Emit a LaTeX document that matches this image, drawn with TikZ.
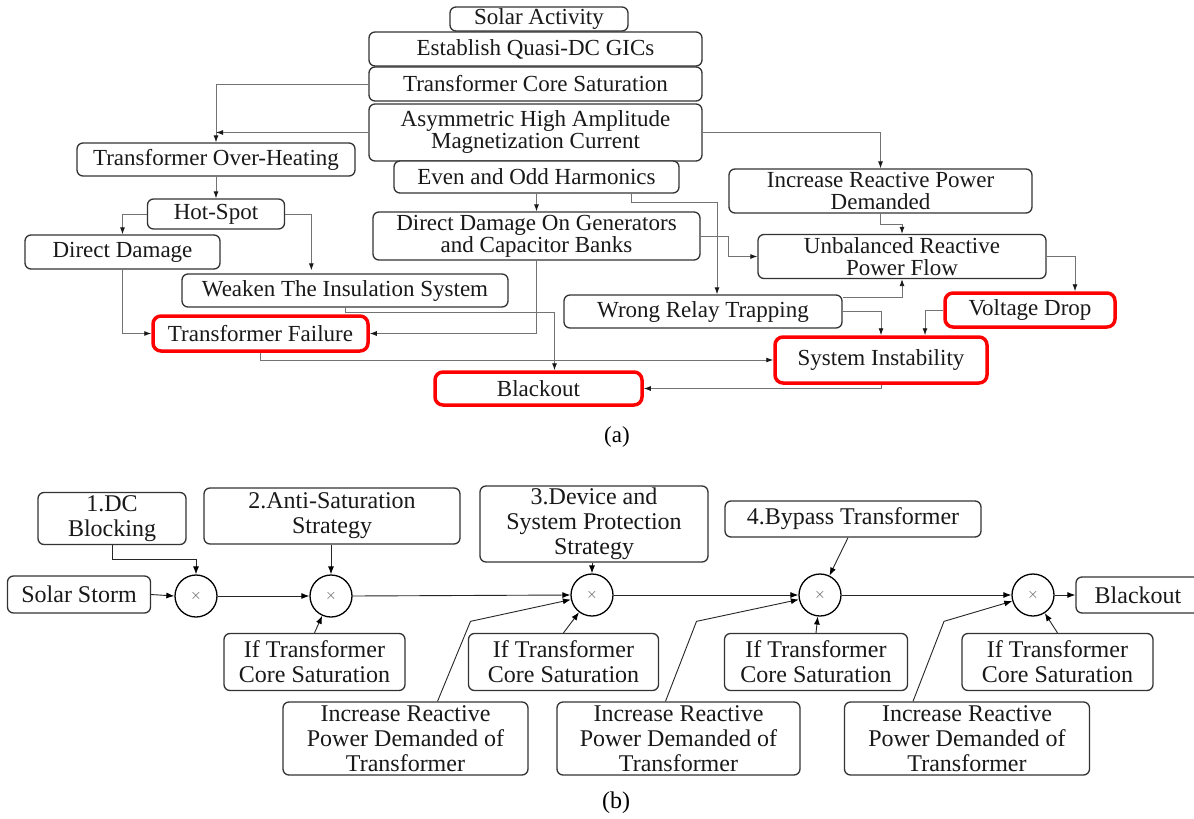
\documentclass[tikz,border=0pt]{standalone}
\usepackage{fontspec}
\setmainfont{Liberation Serif}
\usetikzlibrary{arrows.meta,calc}
\pgfdeclarelayer{back}
\pgfdeclarelayer{bg}
\pgfsetlayers{back,bg,main}
\newcommand\fa{\fontsize{23}{22}\selectfont}
\newcommand\fb{\fontsize{24}{25}\selectfont}
\begin{document}
\begin{tikzpicture}[x=1pt,y=-1pt,
  bx/.style={draw=black!80, fill=white, line width=1.3pt, rounded corners=6pt, inner sep=0pt, align=center, text=black!90},
  ba/.style={bx, font=\fa},
  bb/.style={bx, font=\fb},
  rb/.style={ba, draw=red, line width=3.5pt, rounded corners=8pt},
  sz/.style 2 args={minimum width=#1pt, minimum height=#2pt},
  ln/.style={draw=black!55, line width=0.9pt, -{Latex[length=7pt,width=5pt,color=black!90]}},
  lnb/.style={draw=black!85, line width=0.9pt, -{Latex[length=8pt,width=6pt,color=black]}},
  mul/.style={circle, draw=black, fill=white, line width=1.3pt, minimum size=42pt, inner sep=0pt, font=\fontsize{14}{14}\selectfont, text=black!70}
]
\begin{pgfonlayer}{back}
\fill[white] (0,0) rectangle (1194,819);
\end{pgfonlayer}
\useasboundingbox (0,0) rectangle (1194,819);

% ---------- (a) ----------
\node[ba, sz={178}{24}] (sa) at (539,19) {Solar Activity};
\node[ba, sz={333}{34}] (eq) at (535.5,49) {Establish Quasi-DC GICs};
\node[ba, sz={333}{34}] (tcs) at (535.5,84) {Transformer Core Saturation};
\node[ba, sz={333}{57}] (asym) at (535.5,132.5) {Asymmetric High Amplitude\\Magnetization Current};
\node[ba, sz={278}{33}] (toh) at (216,159.5) {Transformer Over-Heating};
\node[ba, sz={285}{32}] (eoh) at (536.5,177) {Even and Odd Harmonics};
\node[ba, sz={303}{44}] (irp) at (880.5,191) {Increase Reactive Power\\Demanded};
\node[ba, sz={137}{30}] (hs) at (216,214) {Hot-Spot};
\node[ba, sz={195}{34}] (dd) at (122.5,252) {Direct Damage};
\node[ba, sz={327}{48}] (ddg) at (536.5,236) {Direct Damage On Generators\\and Capacitor Banks};
\node[ba, sz={288}{44}] (urp) at (902,256.5) {Unbalanced Reactive\\Power Flow};
\node[ba, sz={326}{33}] (wis) at (345,290.5) {Weaken The Insulation System};
\node[ba, sz={278}{33}] (wrt) at (703,311.5) {Wrong Relay Trapping};
\node[rb, sz={170}{34}] (vd) at (1030,310) {Voltage Drop};
\node[rb, sz={215}{35}] (tf) at (260.5,333.5) {Transformer Failure};
\node[rb, sz={212}{46}] (si) at (881,360) {System Instability};
\node[rb, sz={207}{33}] (bo) at (538.5,388.5) {Blackout};
\node[font=\fa] (la) at (617,437) {(a)};

\begin{pgfonlayer}{bg}
\draw[ln] (tcs.west) -| (toh.north);
\draw[ln] (asym.west) -- (asym.west -| toh.north);
\draw[ln] (asym.east) -| (irp.north);
\draw[ln] (toh.south) -- (hs.north);
\draw[ln] (hs.west) -| (dd.north);
\draw[ln] (hs.east) -| ($(wis.north west)+(130,-3)$);
\draw[ln] (dd.south) |- (tf.west);
\draw[ln] (ddg.south) |- (tf.east);
\draw[ln] (wis.south) -- ++(0,5) -| ($(bo.north)+(16,0)$);
\draw[ln] (tf.south) |- (si.west);
\draw[ln] (eoh.south) -- (ddg.north);
\draw[ln] ($(eoh.south)+(95,0)$) -- ++(0,9) -| ($(wrt.north)+(14,0)$);
\draw[ln] (ddg.east) -- ++(28,0) |- (urp.west);
\draw[ln] (irp.south) -- ++(0,11) -| (urp.north);
\draw[ln] ($(wrt.north east)+(0,3)$) -| (urp.south);
\draw[ln] (wrt.east) -| (si.north);
\draw[ln] (urp.east) -| ($(vd.north)+(45,0)$);
\draw[ln] (vd.west) -| ($(si.north)+(44,0)$);
\draw[ln] (si.south) |- (bo.east);
\end{pgfonlayer}

% ---------- (b) ----------
\node[bb, sz={148}{52}] (dcb) at (112,518.5) {1.DC\\Blocking};
\node[bb, sz={256}{56}] (as) at (332,516) {2.Anti-Saturation\\Strategy};
\node[bb, sz={228}{76}] (dev) at (594,524) {3.Device and\\System Protection\\Strategy};
\node[bb, sz={256}{36}] (bp) at (853,519) {4.Bypass Transformer};
\node[bb, sz={143}{37}] (ss) at (79,594.5) {Solar Storm};
\node[bb, sz={124}{36}] (bob) at (1138,595) {Blackout};
\node[mul] (c1) at (196,596) {$\times$};
\node[mul] (c2) at (331,596) {$\times$};
\node[mul] (c3) at (592,595) {$\times$};
\node[mul] (c4) at (820,595) {$\times$};
\node[mul] (c5) at (1033,595) {$\times$};
\node[bb, sz={181}{57}] (it1) at (314.5,662) {If Transformer\\Core Saturation};
\node[bb, sz={190}{57}] (it2) at (563.5,662) {If Transformer\\Core Saturation};
\node[bb, sz={183}{57}] (it3) at (816,662) {If Transformer\\Core Saturation};
\node[bb, sz={191}{57}] (it4) at (1057.5,662) {If Transformer\\Core Saturation};
\node[bb, sz={245}{73}] (ir1) at (405.5,738.5) {Increase Reactive\\Power Demanded of\\Transformer};
\node[bb, sz={243}{73}] (ir2) at (678.5,738.5) {Increase Reactive\\Power Demanded of\\Transformer};
\node[bb, sz={245}{73}] (ir3) at (967,738.5) {Increase Reactive\\Power Demanded of\\Transformer};
\node[font=\fb] (lb) at (616,803) {(b)};

\begin{pgfonlayer}{bg}
\draw[lnb] (ss.east) -- (c1.west);
\draw[lnb] (dcb.south) -- ++(0,14) -| (c1.north);
\draw[lnb] (c1.east) -- (c2.west);
\draw[lnb] (c2.north |- as.south) -- (c2.north);
\draw[lnb] (it1.north) -- (c2);
\draw[lnb] (c2.east) -- (c3.west);
\draw[lnb] (c3.north |- dev.south) -- (c3.north);
\draw[lnb] (it2.north) -- (c3);
\draw[lnb] ($(ir1.north)+(32,0)$) -- ++(33,-80) -- (c3);
\draw[lnb] (c3.east) -- (c4.west);
\draw[lnb] ($(bp.south)+(-5,0)$) -- (c4);
\draw[lnb] (it3.north) -- (c4);
\draw[lnb] ($(ir2.north)+(-13,0)$) -- ++(31,-80) -- (c4);
\draw[lnb] (c4.east) -- (c5.west);
\draw[lnb] ($(ir3.north)+(-54,0)$) -- ++(31,-80) -- (c5);
\draw[lnb] (it4.north) -- (c5);
\draw[lnb] (c5.east) -- (bob.west);
\end{pgfonlayer}
\end{tikzpicture}
\end{document}
